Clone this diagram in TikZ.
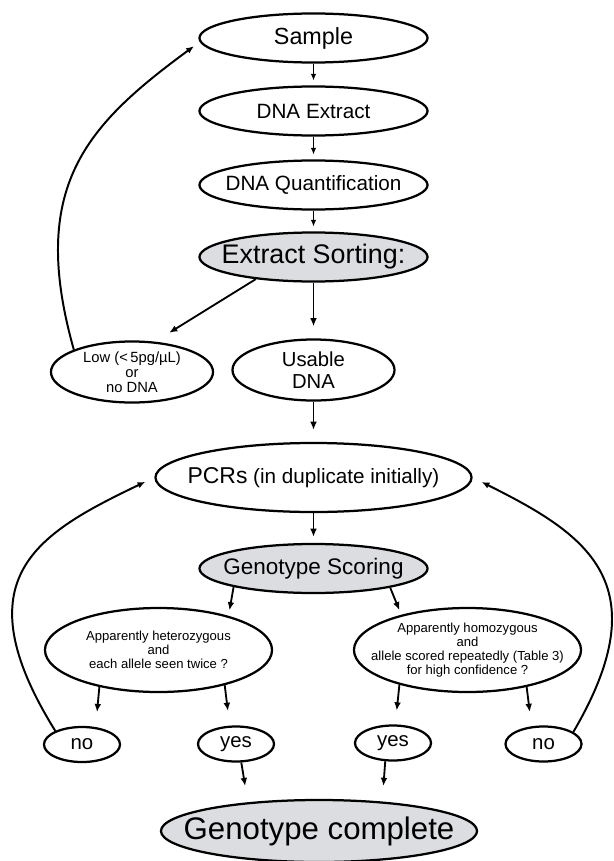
\documentclass[tikz,border=0pt]{standalone}
\usepackage{fontspec}
\setmainfont{Liberation Sans}
\usepackage{tikz}
\usetikzlibrary{positioning,shapes.geometric,arrows.meta}
\definecolor{sortgray}{RGB}{220,221,224}

\begin{document}
\begin{tikzpicture}[x=0.025cm,y=-0.025cm,
  blob/.style={draw,ellipse,line width=1.6pt,inner xsep=-7mm,inner ysep=-2mm,align=center},
  stage/.style={blob,minimum width=5.7cm,minimum height=1.225cm},
  branch/.style={blob,minimum width=4.05cm,minimum height=1.525cm},
  check/.style={blob,minimum width=5.675cm,minimum height=2.1cm,font=\fontsize{9.3}{9.8}\selectfont},
  answer/.style={blob,minimum width=1.9cm,minimum height=0.875cm,font=\fontsize{14.5}{16}\selectfont},
  flow/.style={-{Latex[length=5.8pt,width=4.8pt]},line width=1.3pt},
  smallflow/.style={-{Latex[length=4.8pt,width=4pt]},line width=1.15pt},
  backloop/.style={-{Latex[length=5.5pt,width=4.6pt]},line width=1.4pt}]

\useasboundingbox (0,0) rectangle (613,861);

\node[stage,font=\fontsize{16.6}{18}\selectfont] (sample) at (313.5,38) {Sample};
\node[stage,font=\fontsize{14.7}{16}\selectfont] (extract) at (313.5,111) {DNA Extract};
\node[stage,font=\fontsize{14.7}{16}\selectfont] (quant) at (313.5,185) {DNA Quantification};
\node[stage,fill=sortgray,font=\fontsize{19.1}{21}\selectfont] (sorting) at (313.5,257) {Extract Sorting:};

\node[branch,font=\fontsize{10.5}{10.7}\selectfont] (low) at (132,372) {Low (<\,5pg/µL)\\or\\no DNA};
\node[branch,font=\fontsize{14.4}{15.6}\selectfont] (usable) at (313.5,370) {Usable\\DNA};

\node[blob,minimum width=7.9cm,minimum height=1.725cm,font=\fontsize{14.7}{16}\selectfont] (pcr) at (313.5,477.5)
  {{\fontsize{16.3}{18}\selectfont PCRs} (in duplicate initially)};
\node[stage,fill=sortgray,font=\fontsize{16}{18}\selectfont] (scoring) at (313.5,568.5) {Genotype Scoring};

\node[check] (hetero) at (158.5,650) {Apparently heterozygous\\and\\each allele seen twice ?};
\node[check] (homo) at (467.5,650) {Apparently homozygous\\and\\allele scored repeatedly (Table 3)\\for high confidence ?};

\node[answer] (noL) at (82,744.5) {no};
\node[answer] (yesL) at (236,744) {yes};
\node[answer] (yesR) at (393,743) {yes};
\node[answer] (noR) at (543.5,744) {no};

\node[blob,fill=sortgray,minimum width=7.9cm,minimum height=1.55cm,font=\fontsize{22.2}{24}\selectfont] (complete) at (319,831) {Genotype complete};

\draw[smallflow,shorten >=1.2mm] (sample) -- (extract);
\draw[smallflow,shorten >=1.2mm] (extract) -- (quant);
\draw[smallflow,shorten >=1.2mm] (quant) -- (sorting);
\draw[flow,shorten >=3mm] (sorting) -- (usable);
\draw[flow,shorten >=4.2mm] (sorting.201.8) -- (low.53.7);
\draw[flow,shorten >=3mm] (usable) -- (pcr);
\draw[flow,shorten >=1.5mm] (pcr) -- (scoring);

\draw[flow,shorten >=1.4mm] (scoring.193.9) -- (hetero.26.6);
\draw[flow,shorten >=1.25mm] (scoring.346.3) -- (homo.152.6);
\draw[flow,shorten >=3.75mm] (hetero.212.2) -- (noL.52);
\draw[flow,shorten >=3.7mm] (hetero.332.4) -- (yesL.109);
\draw[flow,shorten >=3.5mm] (homo.207.9) -- (yesR.83.4);
\draw[flow,shorten >=3.6mm] (homo.328.1) -- (noR.124);
\draw[flow,shorten >=4.1mm] (yesL.286.1) -- (complete.158.3);
\draw[flow,shorten >=3.9mm] (yesR.247.9) -- (complete.25.3);

\draw[backloop,shorten >=1.8mm] (low.159.6) .. controls +(-46,-163) and +(-113,83) .. (sample.182);
\draw[backloop,shorten >=2.5mm] (noL.153.4) .. controls +(-95,-153) and +(-117,56) .. (pcr.west);
\draw[backloop,shorten >=2.5mm] (noR.22) .. controls +(88,-150) and +(112,56) .. (pcr.east);
\end{tikzpicture}
\end{document}
